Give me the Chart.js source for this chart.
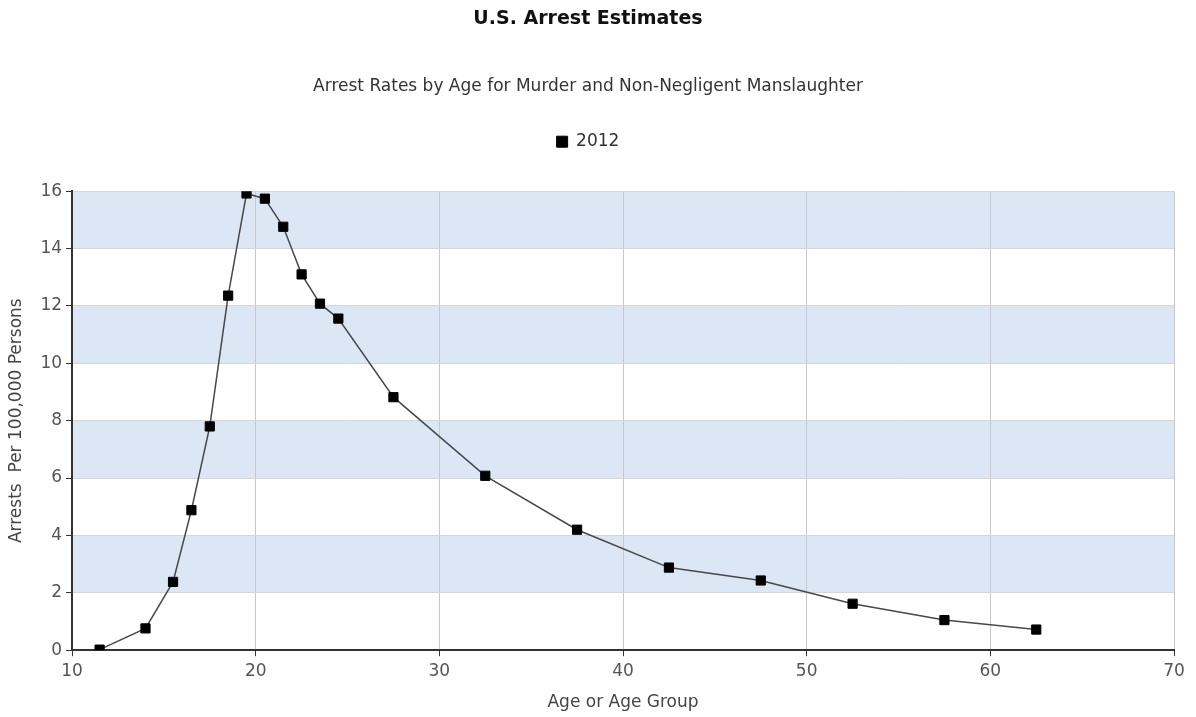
<!DOCTYPE html>
<html>
<head>
<meta charset="utf-8">
<script src="https://cdn.jsdelivr.net/npm/chart.js@4/dist/chart.umd.min.js"></script>
<style>
    html, body { margin: 0; padding: 0; background: #fff; }
    #wrap { width: 1196px; height: 717px; }
</style>
</head>
<body>
<div id="wrap"><canvas id="arrestChart"></canvas></div>
<script>
const ages = [11.5, 14, 15.5, 16.5, 17.5, 18.5, 19.5, 20.5, 21.5, 22.5, 23.5, 24.5, 27.5, 32.5, 37.5, 42.5, 47.5, 52.5, 57.5, 62.5];
const rates2012 = [0.02, 0.76, 2.38, 4.88, 7.8, 12.36, 15.92, 15.74, 14.76, 13.1, 12.08, 11.56, 8.82, 6.08, 4.2, 2.88, 2.43, 1.62, 1.05, 0.72];
const yBands = [[2, 4], [6, 8], [10, 12], [14, 16]];

const FONT = "'DejaVu Sans', Verdana, sans-serif";

// shaded horizontal bands behind the plot
const bandPlugin = {
    id: "bands",
    beforeDraw(chart) {
        const { ctx, chartArea, scales } = chart;
        ctx.save();
        ctx.fillStyle = "#dbe7f4";
        yBands.forEach(([lo, hi]) => {
            const top = scales.y.getPixelForValue(hi);
            const bottom = scales.y.getPixelForValue(lo);
            ctx.fillRect(chartArea.left, top, chartArea.right - chartArea.left, bottom - top);
        });
        ctx.restore();
    },
};

// extra gap under the legend
const legendGap = {
    id: "legendGap",
    beforeInit(chart) {
        const origFit = chart.legend.fit;
        chart.legend.fit = function () {
            origFit.bind(chart.legend)();
            this.height += 31;
        };
    },
};

new Chart(document.getElementById("arrestChart"), {
    type: "scatter",
    data: {
        datasets: [
            {
                label: "2012",
                data: ages.map((age, i) => ({ x: age, y: rates2012[i] })),
                showLine: true,
                borderColor: "#484848",
                borderWidth: 1.5,
                backgroundColor: "#000",
                pointStyle: "rect",
                pointRadius: 6.5,
                pointBorderColor: "#000",
                pointBorderWidth: 1,
                tension: 0,
            },
        ],
    },
    options: {
        responsive: true,
        maintainAspectRatio: false,
        animation: false,
        layout: { padding: { left: 2, right: 22, top: 2, bottom: 0 } },
        plugins: {
            title: {
                display: true,
                text: "U.S. Arrest Estimates",
                color: "#111",
                font: { family: FONT, size: 19, weight: "bold" },
                padding: { top: 6, bottom: 46 },
            },
            subtitle: {
                display: true,
                text: "Arrest Rates by Age for Murder and Non-Negligent Manslaughter",
                color: "#333",
                font: { family: FONT, size: 17 },
                padding: { bottom: 26 },
            },
            legend: {
                display: true,
                labels: {
                    usePointStyle: true,
                    pointStyle: "rect",
                    boxWidth: 11,
                    boxHeight: 11,
                    color: "#333",
                    font: { family: FONT, size: 17 },
                    padding: 10,
                },
            },
            tooltip: { enabled: false },
        },
        scales: {
            x: {
                type: "linear",
                min: 10,
                max: 70,
                ticks: {
                    stepSize: 10,
                    color: "#555",
                    font: { family: FONT, size: 17 },
                    padding: 5,
                },
                grid: {
                    color: "#c8c8c8",
                    tickColor: "#333",
                    tickLength: 6,
                },
                border: { color: "#333", width: 2 },
                title: {
                    display: true,
                    text: "Age or Age Group",
                    color: "#444",
                    font: { family: FONT, size: 17 },
                    padding: { top: 6 },
                },
            },
            y: {
                min: 0,
                max: 16,
                ticks: {
                    stepSize: 2,
                    color: "#555",
                    font: { family: FONT, size: 17 },
                    padding: 4,
                },
                grid: {
                    color: "#d6d6d6",
                    tickColor: "#333",
                    tickLength: 6,
                },
                border: { color: "#333", width: 2 },
                title: {
                    display: true,
                    text: "Arrests  Per 100,000 Persons",
                    color: "#444",
                    font: { family: FONT, size: 17 },
                    padding: { bottom: 10 },
                },
            },
        },
    },
    plugins: [bandPlugin, legendGap],
});
</script>
</body>
</html>
